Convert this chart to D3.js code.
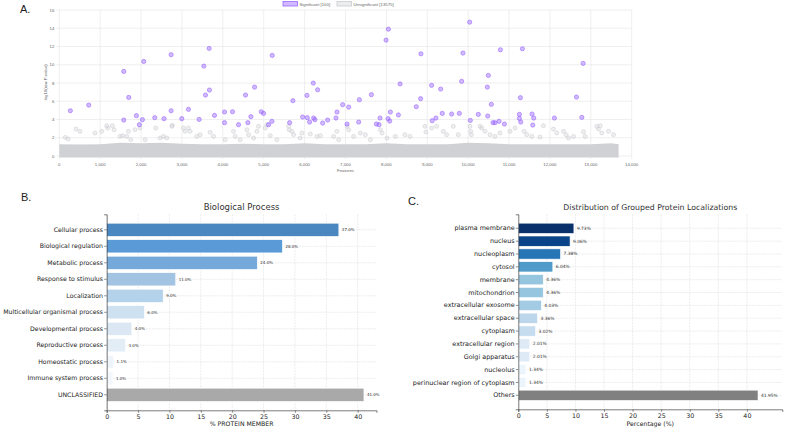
<!DOCTYPE html>
<html>
<head>
<meta charset="utf-8">
<script src="https://cdn.jsdelivr.net/npm/d3@7"></script>
<style>
  body { margin: 0; background: #fff; }
  svg { display: block; }
</style>
</head>
<body>
<div id="fig"></div>
<script>
// ---- Panel A data: significant features (index, -log10 p) ----
const sigX = [270, 720, 1576, 1576, 1698, 1886, 1959, 2033, 2065, 2335, 2563, 2735, 2735, 2996, 3159, 3420, 3535, 3576, 3665, 3673,
  3796, 4041, 4041, 4237, 4384, 4555, 4612, 4686, 4776, 4939, 4996, 5118, 5208, 5200, 5633, 5714, 5951, 6057, 6065, 6122,
  6212, 6220, 6253, 6318, 6441, 6563, 6767, 6792, 6931, 7037, 7078, 7322, 7339, 7633, 7755, 7820, 7845, 7992, 8049, 8041,
  8082, 8098, 8335, 8294, 8845, 8837, 8731, 9106, 9122, 9212, 9327, 9367, 9596, 9784, 9841, 9873, 10037, 10053, 10249, 10469,
  10494, 10478, 10567, 10608, 10657, 10755, 10788, 10886, 11278, 11253, 11253, 11286, 11327, 11563, 11604, 11580, 12110, 12649, 12780, 12812]
const sigY = [4.96, 5.58, 9.27, 3.94, 6.42, 4.42, 3.43, 3.98, 10.36, 4.2, 4.09, 11.1, 4.96, 4.09, 5.11, 4.01, 9.85, 6.68, 11.79, 7.23,
  4.45, 4.82, 3.65, 4.85, 3.43, 6.68, 3.65, 4.31, 7.55, 4.85, 4.67, 3.43, 11.02, 3.8, 3.65, 6.06, 4.27, 6.64, 4.2, 3.72,
  7.99, 4.16, 3.98, 7.26, 3.61, 3.94, 4.16, 4.82, 5.62, 3.5, 5.36, 3.72, 6.17, 6.72, 3.5, 3.43, 4.16, 12.7, 13.9, 4.09,
  3.83, 4.82, 7.9, 4.5, 11.2, 6.28, 5.4, 7.74, 3.87, 4.16, 7.34, 4.67, 4.6, 4.67, 8.18, 11.28, 14.67, 3.9, 4.56, 7.55,
  8.83, 4.38, 5.66, 3.65, 3.65, 3.8, 11.64, 3.5, 6.39, 4.56, 4.12, 3.72, 11.75, 4.6, 4.16, 3.39, 4.16, 6.46, 4.23, 10.15]

// ---- Panel A data: visible non-significant features above the dense band ----
const grayX = [147, 220, 408, 506, 873, 1037, 1159, 1184, 1298, 1339, 1486, 1551, 1649, 1690, 1747, 1853, 1976, 2098, 2359, 2465,
  2547, 2629, 2751, 2767, 3037, 3078, 3159, 3200, 3363, 3445, 3690, 3771, 4057, 4261, 4302, 4424, 4588, 4629, 4751, 4833,
  4873, 5037, 5078, 5159, 5322, 5608, 5624, 5690, 5731, 5894, 5935, 6139, 6302, 6384, 6710, 6792, 6833, 7037, 7078, 7200,
  7363, 7486, 7608, 7853, 7894, 8016, 8220, 8453, 8576, 8943, 8967, 9106, 9229, 9392, 9473, 9637, 9759, 10045, 10061, 10078,
  10290, 10331, 10412, 10535, 10657, 10780, 11024, 11147, 11367, 11433, 11555, 11759, 11841, 12086, 12167, 12331, 12396, 12453, 12576, 12820,
  12861, 13147, 13229, 13188, 13269, 13433, 13555]
const grayY = [2.04, 1.86, 2.96, 2.7, 2.52, 2.7, 3.32, 3.07, 3.32, 2.88, 2.15, 2.23, 2.15, 2.7, 1.79, 2.88, 3.07, 1.79, 3.07, 1.97,
  2.15, 1.97, 3.25, 3.36, 3.07, 2.7, 3.07, 2.7, 2.15, 2.34, 2.59, 2.15, 1.79, 2.7, 2.15, 1.79, 2.88, 2.34, 1.97, 2.7,
  3.25, 3.07, 3.43, 2.23, 1.79, 3.25, 2.88, 2.7, 2.34, 1.97, 2.52, 2.41, 2.15, 2.23, 2.15, 2.7, 1.79, 3.25, 2.88, 2.15,
  2.52, 2.34, 1.79, 2.88, 2.52, 1.97, 2.15, 2.34, 2.15, 3.25, 2.63, 3.07, 3.25, 2.7, 2.34, 3.25, 2.34, 3.25, 2.7, 2.34,
  3.25, 3.07, 2.7, 2.34, 2.15, 2.52, 2.7, 3.07, 2.7, 2.34, 2.15, 2.08, 3.32, 2.96, 2.52, 2.7, 2.34, 1.97, 2.15, 2.66,
  2.15, 3.25, 3.32, 2.96, 2.52, 2.7, 2.34]

// ---- Panel A data: upper edge of the saturated band of non-significant points ----
const bandX = [0, 500, 1000, 1500, 2000, 2500, 3000, 3500, 4000, 4500, 5000, 5500, 6000, 6500, 7000,
  7500, 8000, 8500, 9000, 9500, 10000, 10500, 11000, 11500, 12000, 12500, 13000, 13500, 13680]
const bandTop = [1.3, 1.25, 1.3, 1.45, 1.4, 1.45, 1.35, 1.3, 1.3, 1.35, 1.3, 1.3, 1.4, 1.3, 1.3,
  1.3, 1.4, 1.3, 1.3, 1.3, 1.45, 1.4, 1.3, 1.3, 1.3, 1.3, 1.3, 1.4, 1.3]

const aXTicks = [0, 1000, 2000, 3000, 4000, 5000, 6000, 7000, 8000, 9000, 10000, 11000, 12000, 13000, 14000]
const aYTicks = [0, 2, 4, 6, 8, 10, 12, 14, 16]

// ---- Panel B data ----
const bpCategories = ["Cellular process", "Biological regulation", "Metabolic process", "Response to stimulus",
  "Localization", "Multicellular organismal process", "Developmental process", "Reproductive process",
  "Homeostatic process", "Immune system process", "UNCLASSIFIED"]
const bpValues = [37.0, 28.0, 24.0, 11.0, 9.0, 6.0, 4.0, 3.0, 1.1, 1.0, 41.0]
const bpPalette = ["#4a87c0", "#5a9ad6", "#74a9da", "#a3c3e2", "#b4d2ea", "#cee1f1", "#dbe8f4", "#e3edf6",
  "#eef4fa", "#f4f7fb", "#a9a9a9"]

// ---- Panel C data ----
const locCategories = ["plasma membrane", "nucleus", "nucleoplasm", "cytosol", "membrane", "mitochondrion",
  "extracellular exosome", "extracellular space", "cytoplasm", "extracellular region", "Golgi apparatus",
  "nucleolus", "perinuclear region of cytoplasm", "Others"]
const locValues = [9.73, 9.06, 7.38, 6.04, 4.36, 4.36, 4.03, 3.36, 3.02, 2.01, 2.01, 1.34, 1.34, 41.95]

const barTicks = [0, 5, 10, 15, 20, 25, 30, 35, 40]

const W = 794, H = 428
const svg = d3.select("#fig").append("svg").attr("width", W).attr("height", H)

// panel letters
const letter = (x, y, t) => svg.append("text").attr("x", x).attr("y", y).text(t)
  .attr("font-family", "Liberation Sans, Arial, sans-serif").attr("font-size", 11).attr("fill", "#222")
letter(20, 13, "A.")
letter(21, 201, "B.")
letter(408, 205, "C.")

// ================= Panel A =================
const ax = d3.scaleLinear().domain([0, 14000]).range([59.3, 631.7])
const ay = d3.scaleLinear().domain([0, 16]).range([156, 10])
const gA = svg.append("g").attr("font-family", "Liberation Sans, Arial, sans-serif")

gA.selectAll(".vgrid").data(aXTicks).enter().append("line")
  .attr("x1", d => ax(d)).attr("x2", d => ax(d)).attr("y1", ay(16)).attr("y2", ay(0) + 3)
  .attr("stroke", "#e4e4e4").attr("stroke-width", 0.6)
gA.selectAll(".hgrid").data(aYTicks).enter().append("line")
  .attr("x1", ax(0) - 3).attr("x2", ax(14000)).attr("y1", d => ay(d)).attr("y2", d => ay(d))
  .attr("stroke", "#e4e4e4").attr("stroke-width", 0.6)

gA.selectAll(".xl").data(aXTicks).enter().append("text")
  .attr("x", d => ax(d)).attr("y", ay(0) + 9.5).attr("text-anchor", "middle")
  .attr("font-size", 4.3).attr("fill", "#666").text(d3.format(","))
gA.selectAll(".yl").data(aYTicks).enter().append("text")
  .attr("x", ax(0) - 5).attr("y", d => ay(d) + 1.5).attr("text-anchor", "end")
  .attr("font-size", 4.3).attr("fill", "#666").text(d => d)

gA.append("text").attr("x", (ax(0) + ax(14000)) / 2).attr("y", 172).attr("text-anchor", "middle")
  .attr("font-size", 4.3).attr("fill", "#666").text("Features")
gA.append("text").attr("transform", `translate(47,${(ay(0) + ay(16)) / 2}) rotate(-90)`)
  .attr("text-anchor", "middle").attr("font-size", 4.3).attr("fill", "#666").text("-log10(raw P-value)")

// dense band of non-significant points
const band = bandX.map((x, i) => ({ x: x, top: bandTop[i] }))
gA.append("path").datum(band)
  .attr("d", d3.area().x(d => ax(d.x)).y0(ay(0) + 1.5).y1(d => ay(d.top)))
  .attr("fill", "#d0d1d5")

const gray = grayX.map((x, i) => ({ x: x, y: grayY[i] }))
gA.selectAll(".gpt").data(gray).enter().append("circle")
  .attr("cx", d => ax(d.x)).attr("cy", d => ay(d.y)).attr("r", 2)
  .attr("fill", "rgba(201,203,207,0.3)").attr("stroke", "#cfd0d4").attr("stroke-width", 0.6)

const sig = sigX.map((x, i) => ({ x: x, y: sigY[i] }))
gA.selectAll(".spt").data(sig).enter().append("circle")
  .attr("cx", d => ax(d.x)).attr("cy", d => ay(d.y)).attr("r", 2.1)
  .attr("fill", "rgba(153,102,255,0.45)").attr("stroke", "#9966ff").attr("stroke-width", 0.6)

// legend
const leg = [{ label: "Significant [100]", fill: "rgba(153,102,255,0.45)", stroke: "#9966ff", x: 283 },
  { label: "Unsignificant [13575]", fill: "rgba(201,203,207,0.35)", stroke: "#c9cbcf", x: 337 }]
leg.forEach(l => {
  gA.append("rect").attr("x", l.x).attr("y", 1.5).attr("width", 14.5).attr("height", 4.5)
    .attr("fill", l.fill).attr("stroke", l.stroke).attr("stroke-width", 0.8)
  gA.append("text").attr("x", l.x + 16.5).attr("y", 5.6).attr("font-size", 4.3).attr("fill", "#666").text(l.label)
})

// ================= Panels B & C =================
function barPanel(o) {
  const g = svg.append("g").attr("font-family", "DejaVu Sans, sans-serif")
  const x = d3.scaleLinear().domain([0, o.xmax]).range([o.left, o.right])
  const y = d3.scaleBand().domain(o.cats).range([o.top, o.bottom]).paddingInner(0.2).paddingOuter(o.po)

  // grid
  g.selectAll(".vg").data(barTicks).enter().append("line")
    .attr("x1", d => x(d)).attr("x2", d => x(d)).attr("y1", o.top).attr("y2", o.bottom)
    .attr("stroke", "#d8d8d8").attr("stroke-width", 0.5).attr("stroke-dasharray", "2,1")
  g.selectAll(".hg").data(o.cats).enter().append("line")
    .attr("x1", o.left).attr("x2", o.right)
    .attr("y1", d => y(d) + y.bandwidth() / 2).attr("y2", d => y(d) + y.bandwidth() / 2)
    .attr("stroke", "#d8d8d8").attr("stroke-width", 0.5).attr("stroke-dasharray", "2,1")

  const data = o.cats.map((c, i) => ({ c: c, v: o.vals[i] }))
  g.selectAll(".bar").data(data).enter().append("rect")
    .attr("x", x(0)).attr("y", d => y(d.c)).attr("width", d => x(d.v) - x(0)).attr("height", y.bandwidth())
    .attr("fill", d => o.color(d.c, d.v)).attr("stroke", "#fff").attr("stroke-width", 0.6)

  g.selectAll(".val").data(data).enter().append("text")
    .attr("x", d => x(d.v) + 3).attr("y", d => y(d.c) + y.bandwidth() / 2 + 1.5)
    .attr("font-size", o.valSize).attr("fill", "#333").text(d => o.fmt(d.v))

  // axes
  const xa = g.append("g").attr("transform", `translate(0,${o.bottom})`)
    .call(d3.axisBottom(x).tickValues(barTicks).tickSize(2.5).tickPadding(2))
  xa.select(".domain").attr("stroke", "#444").attr("stroke-width", 0.7)
  xa.selectAll(".tick line").attr("stroke", "#444").attr("stroke-width", 0.6)
  xa.selectAll("text").attr("font-size", 6.3).attr("fill", "#222").attr("font-family", "DejaVu Sans, sans-serif")

  const ya = g.append("g").attr("transform", `translate(${o.left},0)`)
    .call(d3.axisLeft(y).tickSize(2.5).tickPadding(1.2))
  ya.select(".domain").attr("stroke", "#444").attr("stroke-width", 0.7)
  ya.selectAll(".tick line").attr("stroke", "#444").attr("stroke-width", 0.6)
  ya.selectAll("text").attr("font-size", o.catSize).attr("fill", "#222").attr("font-family", "DejaVu Sans, sans-serif")

  g.append("text").attr("x", (o.left + o.right) / 2).attr("y", o.top - 4).attr("text-anchor", "middle")
    .attr("font-size", o.titleSize).attr("fill", "#333").text(o.title)
  g.append("text").attr("x", (o.left + o.right) / 2).attr("y", 426).attr("text-anchor", "middle")
    .attr("font-size", 6.2).attr("fill", "#222").text(o.xlabel)
}

const bpColor = d3.scaleOrdinal(bpCategories, bpPalette)
barPanel({
  cats: bpCategories, vals: bpValues, left: 106.7, right: 376.5, top: 214.3, bottom: 410.3, xmax: 43.0, po: 0.54,
  color: c => bpColor(c), fmt: v => v.toFixed(1) + "%", valSize: 4, titleSize: 8.5, catSize: 6.2,
  title: "Biological Process", xlabel: "% PROTEIN MEMBER"
})

const locBlue = d3.scaleSequential(d3.interpolateBlues).domain([0.9, 9.73])
barPanel({
  cats: locCategories, vals: locValues, left: 518.3, right: 782.3, top: 214.3, bottom: 409.3, xmax: 46.2, po: 0.69,
  color: (c, v) => c === "Others" ? "#808080" : locBlue(v), fmt: v => v.toFixed(2) + "%", valSize: 4.4, titleSize: 7.8, catSize: 6.4,
  title: "Distribution of Grouped Protein Localizations", xlabel: "Percentage (%)"
})
</script>
</body>
</html>
